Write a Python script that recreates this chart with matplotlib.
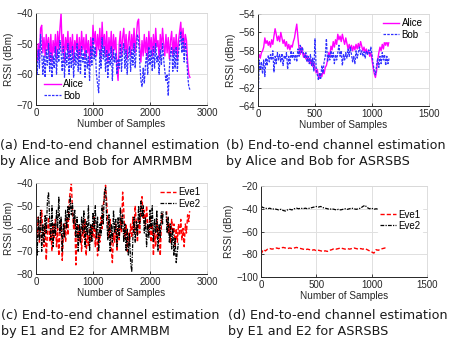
import numpy as np
import matplotlib
matplotlib.use("Agg")
import matplotlib.pyplot as plt

# ---------------- data ----------------
step_a = 20
alice_a = [-52, -56, -50, -55, -45, -44, -53, -48, -54, -47, -52, -48, -55, -47, -56, -49, -53, -47, -55, -46,
           -52, -45, -40, -53, -47, -56, -48, -52, -46, -55, -48, -53, -47, -56, -49, -52, -47, -55, -48, -54,
           -46, -52, -48, -55, -47, -53, -49, -57, -48, -54, -44, -50, -46, -54, -47, -52, -45, -55, -43, -51,
           -47, -54, -46, -56, -48, -53, -46, -55, -47, -52, -48, -58, -62, -50, -46, -54, -48, -45, -53, -47,
           -55, -49, -46, -54, -47, -52, -45, -53, -48, -43, -42, -51, -56, -49, -54, -47, -53, -48, -55, -46,
           -52, -48, -54, -47, -53, -45, -51, -49, -55, -47, -52, -45, -50, -54, -47, -53, -48, -55, -49, -46,
           -54, -48, -53, -47, -55, -49, -46, -43, -50, -45, -52, -47, -49, -56, -60, -61]
bob_a = [-55, -60, -52, -58, -47, -53, -60, -54, -61, -52, -57, -50, -59, -53, -61, -54, -58, -51, -60, -52,
         -56, -49, -53, -59, -51, -61, -53, -57, -50, -60, -52, -58, -51, -61, -53, -57, -50, -59, -52, -60,
         -51, -56, -53, -61, -52, -58, -54, -62, -51, -57, -48, -55, -51, -60, -63, -66, -52, -58, -48, -55,
         -51, -59, -52, -61, -53, -57, -51, -62, -52, -56, -53, -60, -55, -58, -50, -59, -52, -50, -58, -52,
         -60, -54, -51, -59, -52, -57, -50, -58, -52, -47, -49, -56, -62, -64, -58, -63, -57, -53, -60, -51,
         -57, -52, -59, -51, -58, -50, -56, -54, -60, -52, -57, -50, -55, -59, -62, -60, -67, -58, -53, -51,
         -59, -52, -58, -51, -59, -53, -50, -46, -53, -48, -56, -50, -53, -60, -64, -65]

step_b = 10
alice_b = [-59.0, -58.4, -58.8, -58.2, -58.0, -57.6, -56.6, -57.2, -56.9, -57.4,
           -57.0, -57.6, -56.8, -57.3, -56.4, -55.6, -56.2, -56.9, -56.4, -57.0,
           -56.0, -56.6, -57.2, -56.8, -57.5, -57.0, -57.8, -57.3, -57.9, -57.4,
           -57.6, -57.0, -56.6, -55.8, -55.1, -56.5, -57.8, -58.4, -57.6, -58.2,
           -58.7, -58.3, -58.9, -58.5, -59.2, -58.8, -59.4, -59.0, -59.7, -59.3,
           -59.9, -60.4, -60.0, -60.8, -61.0, -60.5, -60.8, -60.2, -60.5, -59.8,
           -59.6, -59.0, -58.2, -58.6, -57.5, -57.9, -57.0, -57.6, -56.8, -57.3,
           -56.2, -56.8, -56.4, -57.0, -56.2, -56.8, -57.3, -56.6, -57.2, -57.8,
           -57.3, -57.9, -57.4, -58.0, -57.5, -57.9, -57.3, -57.8, -57.2, -57.7,
           -57.0, -57.5, -58.0, -57.6, -58.2, -57.8, -58.3, -58.0, -58.6, -58.2,
           -59.0, -59.8, -60.5, -60.9, -60.2, -59.0, -58.2, -57.6, -58.0, -57.3,
           -57.8, -57.0, -57.4, -56.9, -57.5, -56.9]
bob_b = [-64.0, -59.0, -60.0, -59.2, -60.5, -59.0, -60.8, -58.8, -59.6, -58.5,
         -59.2, -58.4, -59.0, -58.0, -60.3, -58.6, -59.4, -58.2, -59.0, -58.4,
         -59.2, -58.3, -59.6, -58.5, -58.9, -58.2, -60.0, -58.6, -59.4, -58.0,
         -58.8, -58.2, -59.0, -58.4, -59.2, -57.8, -58.6, -57.4, -58.2, -57.6,
         -58.4, -58.8, -58.2, -59.2, -58.6, -59.4, -58.4, -59.6, -58.8, -60.2,
         -56.7, -59.8, -60.6, -61.2, -60.4, -61.0, -59.6, -60.4, -59.2, -58.6,
         -56.7, -59.2, -58.4, -59.0, -58.0, -58.8, -58.2, -59.4, -58.4, -59.0,
         -58.2, -57.4, -58.6, -58.0, -59.6, -58.4, -59.0, -58.2, -58.8, -57.8,
         -58.6, -57.6, -58.4, -59.2, -58.6, -59.4, -58.0, -58.8, -58.2, -57.6,
         -58.4, -58.0, -58.6, -58.1, -58.8, -58.0, -58.4, -57.9, -58.3, -57.6,
         -58.4, -59.4, -60.2, -60.6, -59.6, -58.8, -59.8, -58.6, -59.4, -58.2,
         -59.0, -58.4, -59.6, -58.6, -59.4, -58.8]

step_c = 20
eve1_c = [-58, -64, -55, -66, -60, -52, -63, -68, -58, -74, -62, -55, -66, -60, -70, -58, -64, -56, -68, -60,
          -72, -62, -56, -74, -64, -58, -66, -55, -63, -48, -44, -40, -52, -60, -56, -76, -64, -58, -66, -60,
          -70, -58, -64, -56, -72, -62, -68, -60, -66, -58, -64, -55, -68, -60, -72, -62, -66, -55, -60, -50,
          -46, -41, -48, -58, -64, -56, -68, -75, -62, -66, -58, -70, -60, -65, -56, -62, -44, -52, -64, -58,
          -70, -62, -66, -58, -64, -55, -62, -50, -58, -66, -55, -62, -50, -46, -56, -52, -60, -50, -58, -62,
          -55, -66, -58, -72, -62, -68, -56, -64, -60, -72, -58, -50, -46, -44, -48, -56, -62, -58, -66, -56,
          -62, -58, -68, -60, -66, -58, -63, -56, -65, -60, -68, -58, -62, -54, -57, -51]
eve2_c = [-60, -72, -55, -65, -52, -70, -58, -66, -54, -62, -48, -44, -56, -65, -50, -68, -58, -63, -52, -60,
          -46, -62, -55, -70, -58, -64, -52, -60, -50, -56, -46, -54, -49, -58, -52, -64, -55, -70, -58, -66,
          -55, -62, -52, -68, -57, -63, -50, -70, -58, -66, -53, -60, -50, -64, -55, -70, -58, -63, -50, -58,
          -44, -42, -56, -65, -54, -70, -58, -66, -52, -62, -56, -68, -55, -64, -51, -60, -54, -66, -58, -70,
          -60, -72, -62, -75, -79, -64, -55, -66, -57, -63, -50, -58, -48, -55, -50, -62, -55, -68, -58, -64,
          -52, -60, -50, -66, -56, -62, -52, -70, -58, -64, -50, -58, -47, -44, -52, -62, -55, -66, -58, -69,
          -60, -72, -64, -75, -70, -66]

step_d = 20
eve1_d = [-80, -76, -77, -75.5, -75, -75.5, -75, -74.5, -75, -74.5, -74, -74.5, -75, -74.5, -75, -74.5,
          -74, -74.5, -75, -75.5, -76, -75.5, -76, -76.5, -76, -77, -76.5, -77, -77.5, -77, -77.5, -76.5,
          -76, -75, -75.5, -75, -74.5, -75, -75.5, -75, -75.5, -75, -74.5, -75, -75.5, -75, -75.5, -75,
          -76, -77, -78, -79, -76, -76.5, -75.5, -75, -74.5, -75]
eve2_d = [-38, -39, -39.5, -40, -39.5, -40.5, -40, -40.5, -41, -40.5, -41.5, -42, -41, -40.5, -41, -40,
          -39.5, -40, -39.5, -40, -39.5, -40, -39.5, -39, -38.5, -38, -38.5, -38, -39, -39.5, -40, -40.5,
          -40, -40.5, -41, -40.5, -41, -40.5, -40, -40.5, -40, -39.5, -40, -40.5, -40, -39.5, -38, -37,
          -39, -40, -39.5, -40.5, -40, -40.5]

captions = ["(a) End-to-end channel estimation\nby Alice and Bob for AMRMBM",
            "(b) End-to-end channel estimation\nby Alice and Bob for ASRSBS",
            "(c) End-to-end channel estimation\nby E1 and E2 for AMRMBM",
            "(d) End-to-end channel estimation\nby E1 and E2 for ASRSBS"]

# ---------------- figure ----------------
W, H = 451, 338
fig = plt.figure(figsize=(W / 100, H / 100), dpi=100)


def px_axes(l, t, r, b):
    return fig.add_axes([l / W, 1 - b / H, (r - l) / W, (b - t) / H])


def style(ax, xlim, xticks, ylim, yticks):
    ax.set_xlim(*xlim)
    ax.set_ylim(*ylim)
    ax.set_xticks(xticks)
    ax.set_yticks(yticks)
    ax.grid(True, color="#e0e0e0", linewidth=0.7)
    ax.set_axisbelow(True)
    ax.tick_params(direction="in", length=2, width=0.6, labelsize=7, pad=2,
                   top=False, right=False, colors="#262626")
    for lab in ax.get_xticklabels() + ax.get_yticklabels():
        lab.set_family("Liberation Sans")
    for s in ["top", "right"]:
        ax.spines[s].set_color("#d8d8d8")
        ax.spines[s].set_linewidth(0.6)
    for s in ["left", "bottom"]:
        ax.spines[s].set_color("#262626")
        ax.spines[s].set_linewidth(0.7)
    ax.set_xlabel("Number of Samples", fontsize=7.2, family="Liberation Sans", labelpad=1, color="#262626")
    ax.set_ylabel("RSSI (dBm)", fontsize=7.2, family="Liberation Sans", labelpad=2, color="#262626")


def legend(ax, **kw):
    lg = ax.legend(prop=dict(family="Liberation Sans", size=7), frameon=True, fancybox=False,
                   handlelength=1.7, handletextpad=0.25, borderpad=0.15, labelspacing=0.12,
                   **kw)
    lg.get_frame().set_facecolor("white")
    lg.get_frame().set_edgecolor("white")
    lg.get_frame().set_alpha(1)
    return lg


# (a)
ax = px_axes(36, 13, 207, 105)
ax.plot(np.arange(len(alice_a)) * step_a, alice_a, color="#ff00ff", lw=1.0, label="Alice")
ax.plot(np.arange(len(bob_a)) * step_a, bob_a, color="#3030ff", lw=0.9, ls=(0, (2, 1)), label="Bob")
style(ax, (0, 3000), [0, 1000, 2000, 3000], (-70, -40), [-70, -60, -50, -40])
legend(ax, loc="lower left", bbox_to_anchor=(0.01, -0.02))

# (b)
ax = px_axes(258, 14, 429, 106)
ax.plot(np.arange(len(alice_b)) * step_b, alice_b, color="#ff00ff", lw=1.0, label="Alice")
ax.plot(np.arange(len(bob_b)) * step_b, bob_b, color="#3030ff", lw=0.9, ls=(0, (2, 1)), label="Bob")
style(ax, (0, 1500), [0, 500, 1000, 1500], (-64, -54), [-64, -62, -60, -58, -56, -54])
legend(ax, loc="upper right", bbox_to_anchor=(1.0, 1.02))

# (c)
ax = px_axes(36, 183, 207, 274)
ax.plot(np.arange(len(eve1_c)) * step_c, eve1_c, color="#ff0000", lw=1.0, ls=(0, (3, 1.5)), label="Eve1")
ax.plot(np.arange(len(eve2_c)) * step_c, eve2_c, color="black", lw=0.9, ls=(0, (3, 1, 1, 1)), label="Eve2")
style(ax, (0, 3000), [0, 1000, 2000, 3000], (-80, -40), [-80, -70, -60, -50, -40])
legend(ax, loc="upper right", bbox_to_anchor=(1.0, 1.02))

# (d)
ax = px_axes(261, 186, 427, 277)
ax.plot(np.arange(len(eve1_d)) * step_d, eve1_d, color="#ff0000", lw=1.0, ls=(0, (3, 1.5)), label="Eve1")
ax.plot(np.arange(len(eve2_d)) * step_d, eve2_d, color="black", lw=0.9, ls=(0, (3, 1, 1, 1)), label="Eve2")
style(ax, (0, 1500), [0, 500, 1000, 1500], (-100, -20), [-100, -80, -60, -40, -20])
legend(ax, loc="upper right", bbox_to_anchor=(1.0, 0.81))

# captions
cap_font = dict(family="DejaVu Sans", size=9.2, color="#1a1a1a", va="center", ha="left",
                linespacing=1.3)
for (x, y), txt in zip([(0, 153.5), (226, 153.5), (1, 323.5), (228, 323.5)], captions):
    fig.text(x / W, 1 - y / H, txt, **cap_font)

fig.savefig("out.png", dpi=100)
